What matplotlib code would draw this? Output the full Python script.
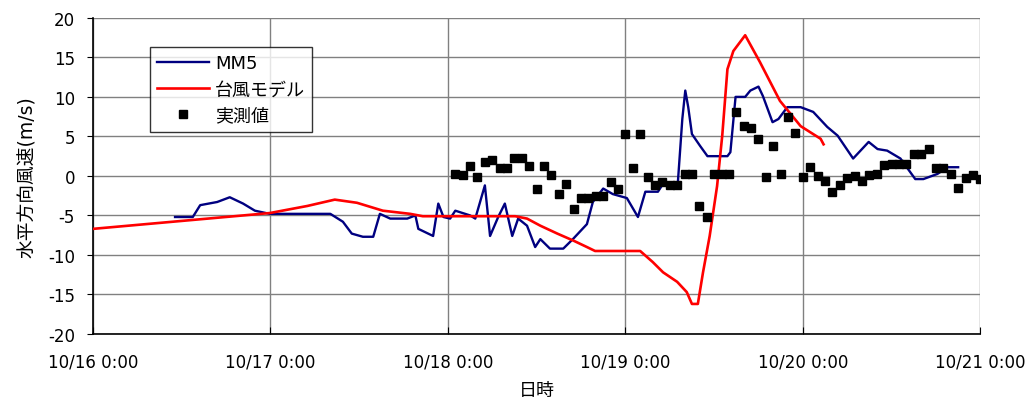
import numpy as np
import matplotlib
matplotlib.use("Agg")
import matplotlib.pyplot as plt

plt.rcParams['font.family'] = ['DejaVu Sans', 'Noto Sans CJK JP']
plt.rcParams['axes.unicode_minus'] = False

# hours since 10/16 0:00
mm5_hours = [11.1, 13.5, 14.5, 16.8, 18.5, 20.3, 21.9, 23.9, 32.1, 33.8, 35.0, 36.5,
             37.9, 38.8, 40.2, 42.5, 43.6, 44.0, 46.0, 46.7, 47.4, 48.3, 49.0, 51.0,
             51.7, 53.0, 53.7, 54.8, 55.7, 56.7, 57.5, 58.7, 59.8, 60.5, 61.8, 63.6,
             64.9, 66.8, 67.6, 69.0, 70.3, 72.2, 73.7, 74.7, 76.4, 77.1, 79.1, 79.7,
             80.1, 80.5, 81.0, 82.1, 83.1, 85.8, 86.2, 86.9, 88.2, 88.9, 90.0, 90.6,
             91.9, 92.7, 93.9, 95.7, 97.4, 99.3, 100.7, 102.8, 104.9, 106.1, 107.4,
             109.2, 111.2, 112.3, 114.2, 115.5, 117.0]
mm5_speed = [-5.2, -5.2, -3.7, -3.3, -2.7, -3.5, -4.4, -4.8, -4.8, -5.8, -7.3, -7.7,
             -7.7, -4.8, -5.4, -5.4, -5.0, -6.7, -7.6, -3.5, -5.2, -5.4, -4.4, -5.0,
             -5.4, -1.2, -7.6, -5.2, -3.5, -7.6, -5.4, -6.3, -9.0, -8.0, -9.2, -9.2,
             -8.0, -6.1, -3.3, -1.6, -2.3, -2.8, -5.2, -2.0, -2.0, -1.0, -0.8, 7.2,
             10.8, 8.7, 5.3, 3.8, 2.5, 2.5, 3.0, 10.0, 10.0, 10.8, 11.3, 10.1,
             6.8, 7.2, 8.7, 8.7, 8.1, 6.2, 5.1, 2.2, 4.3, 3.4, 3.2,
             2.2, -0.4, -0.4, 0.25, 1.1, 1.1]

model_hours = [0.0, 23.9, 29.0, 32.7, 35.7, 39.2, 42.9, 44.6, 57.1, 58.7, 60.5, 62.8,
               65.0, 66.8, 67.9, 74.0, 75.7, 77.1, 79.0, 80.3, 81.0, 81.8, 82.5, 83.4,
               84.4, 85.1, 85.8, 86.6, 88.2, 90.2, 92.9, 95.7, 98.4, 98.8]
model_speed = [-6.7, -4.7, -3.8, -3.0, -3.4, -4.4, -4.8, -5.1, -5.1, -5.4, -6.3, -7.3,
               -8.2, -9.0, -9.5, -9.5, -10.9, -12.2, -13.4, -14.7, -16.2, -16.2, -12.2,
               -7.6, -1.3, 5.1, 13.5, 15.8, 17.8, 14.4, 9.5, 6.3, 4.7, 4.0]

# hourly observations from 10/18 1:00 to 10/21 0:00
obs_hours = np.arange(49, 121)
obs_speed = [0.2, 0.1, 1.3, -0.1, 1.8, 2.0, 1.0, 1.0, 2.3, 2.3,
             1.3, -1.6, 1.3, 0.1, -2.3, -1.0, -4.2, -2.8, -2.8, -2.5,
             -2.5, -0.8, -1.6, 5.3, 1.0, 5.3, -0.1, -1.2, -0.8, -1.1,
             -1.1, 0.25, 0.25, -3.8, -5.2, 0.25, 0.25, 0.25, 8.1, 6.3,
             6.1, 4.7, -0.1, 3.8, 0.25, 7.5, 5.4, -0.1, 1.1, 0.0,
             -0.6, -2.0, -1.1, -0.3, 0.0, -0.7, 0.1, 0.25, 1.4, 1.5,
             1.5, 1.5, 2.8, 2.8, 3.4, 1.0, 1.0, 0.25, -1.5, -0.3,
             0.1, -0.4]

tick_hours = [0, 24, 48, 72, 96, 120]
tick_labels = ["10/16 0:00", "10/17 0:00", "10/18 0:00", "10/19 0:00", "10/20 0:00", "10/21 0:00"]

fig = plt.figure(figsize=(10.33, 4.10), dpi=100)
ax = fig.add_axes([0.090, 0.183, 0.859, 0.771])

ax.plot(mm5_hours, mm5_speed, color='#000080', lw=1.7, label='MM5', zorder=3)
ax.plot(model_hours, model_speed, color='#FF0000', lw=1.9, label='台風モデル', zorder=4)
ax.plot(obs_hours, obs_speed, 's', color='black', ms=5.5, ls='none', label='実測値', zorder=5)

ax.set_xlim(0, 120)
ax.set_ylim(-20, 20)
ax.set_xticks(tick_hours)
ax.set_xticklabels(tick_labels)
ax.set_yticks(np.arange(-20, 21, 5))
ax.grid(True, color='#808080', lw=1.0)
ax.set_axisbelow(True)
for s in ['top', 'right']:
    ax.spines[s].set_visible(False)
for s in ['left', 'bottom']:
    ax.spines[s].set_color('black')
    ax.spines[s].set_linewidth(1.2)
ax.tick_params(axis='x', direction='in', length=5, labelsize=12, pad=13)
ax.tick_params(axis='y', direction='out', length=4, labelsize=12, pad=9)
ax.set_xlabel('日時', fontsize=13, labelpad=8)
ax.set_ylabel('水平方向風速(m/s)', fontsize=13.5, labelpad=8)

leg = ax.legend(loc='upper left', bbox_to_anchor=(0.064, 0.908), borderaxespad=0,
                frameon=True, fancybox=False, edgecolor='black', fontsize=13,
                handlelength=2.9, handletextpad=0.3, labelspacing=0.45,
                borderpad=0.4)
leg.get_frame().set_linewidth(1.0)

fig.savefig('out.png', dpi=100)
